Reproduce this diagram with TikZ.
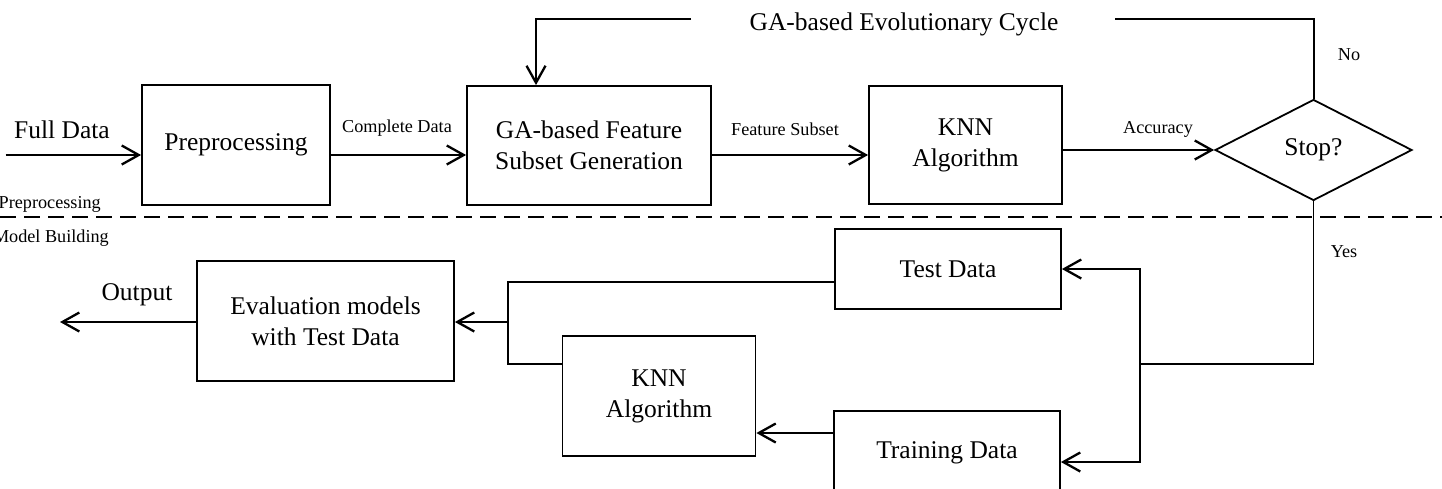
\documentclass[tikz,border=0pt]{standalone}
\usepackage{fontspec}
\setmainfont{Liberation Serif}
\usetikzlibrary{arrows.meta,shapes.geometric,calc}
\begin{document}
\begin{tikzpicture}[x={(1pt,0)},y={(0,-1pt)},
  box/.style={draw,line width=1.8pt,inner sep=0pt,align=center,font=\fontsize{25.5}{31}\selectfont},
  big/.style={inner sep=0pt,font=\fontsize{25.5}{31}\selectfont},
  small/.style={inner sep=0pt,font=\fontsize{18.2}{22}\selectfont},
  arr/.style={line width=2.3pt,-{Straight Barb[length=17pt,width=19pt,line width=2.3pt]}},
  thinarr/.style={line width=1.6pt,-{Straight Barb[length=17pt,width=19pt,line width=2.3pt]}},
  link/.style={line width=1.6pt},
  loop/.style={line width=2pt}]
\useasboundingbox (0,0) rectangle (1442,488);
\fill[white] (0,0) rectangle (1442,488);

% top row boxes
\node[box,minimum width=188pt,minimum height=120pt] (pre) at (236,145) {Preprocessing};
\node[box,minimum width=244pt,minimum height=119pt] (ga) at (589,145.5) {GA-based Feature\\Subset Generation};
\node[box,minimum width=193pt,minimum height=118pt] (knn) at (965.5,145) {KNN\\Algorithm};
\node[draw,diamond,line width=1.8pt,inner sep=0pt,minimum width=197pt,minimum height=101pt,font=\fontsize{25.5}{31}\selectfont] (stop) at (1313.5,150) {Stop?};

% bottom row boxes
\node[box,minimum width=257pt,minimum height=120pt] (eval) at (325.5,321) {Evaluation models\\with Test Data};
\node[box,minimum width=193pt,minimum height=120pt] (knn2) at (659,396) {KNN\\Algorithm};
\node[box,minimum width=226pt,minimum height=80pt] (test) at (948,269) {Test Data};
\node[box,minimum width=226pt,minimum height=84pt] (train) at (947,453) {Training Data};

% labels
\node[big,anchor=base] (lfull) at (62,138) {Full Data};
\node[small,anchor=base] (lcomp) at (397,132) {Complete Data};
\node[small,anchor=base] (lfeat) at (785,135) {Feature Subset};
\node[small,anchor=base] (lacc) at (1158,133) {Accuracy};
\node[big,anchor=base] (lcycle) at (904,30) {GA-based Evolutionary Cycle};
\node[small,anchor=base] (lno) at (1349,60) {No};
\node[small,anchor=base] (lyes) at (1344,257) {Yes};
\node[big,anchor=base] (lout) at (137,300) {Output};
\node[small,anchor=base east] (lpre) at (101,208) {Preprocessing};
\node[small,anchor=base east] (lmodel) at (109,242) {Model Building};

% separator
\coordinate (sepL) at (0,217);
\coordinate (sepR) at (1442,217);
\draw[line width=1.2pt,dash pattern=on 16pt off 8pt] (sepL) -- (sepR);

% top row connectors
\coordinate (in) at (5.5,155);
\draw[arr] (in) -- (pre.west |- in);
\draw[arr] (pre.east |- in) -- (ga.west |- in);
\draw[arr] (ga.east |- in) -- (knn.west |- in);
\draw[arr] (knn.east |- stop.west) -- (stop.west);

% evolutionary loop
\coordinate (c1) at (1115,19);
\coordinate (c2) at (691,19);
\draw[loop] (stop.north) |- (c1);
\draw[loop,-{Straight Barb[length=17pt,width=19pt,line width=2.3pt]}] (c2) -| ([xshift=-53pt]ga.north);

% yes branch
\coordinate (j) at (1140,364);
\draw[link] (stop.south) |- (j);
\draw[thinarr] (j) |- (test.east);
\draw[thinarr] (j) |- ([yshift=-9pt]train.east);

% model building connectors
\coordinate (k) at (508,322);
\coordinate (kb) at (508,364);
\draw[link] ([yshift=-13pt]test.west) -| (kb) -- (knn2.west |- kb);
\draw[thinarr] (k) -- (eval.east |- k);
\draw[thinarr] ([yshift=20pt]train.west) -- (knn2.east |- 0,433);
\coordinate (out) at (60,322);
\draw[arr] (eval.west |- out) -- (out);
\end{tikzpicture}
\end{document}
